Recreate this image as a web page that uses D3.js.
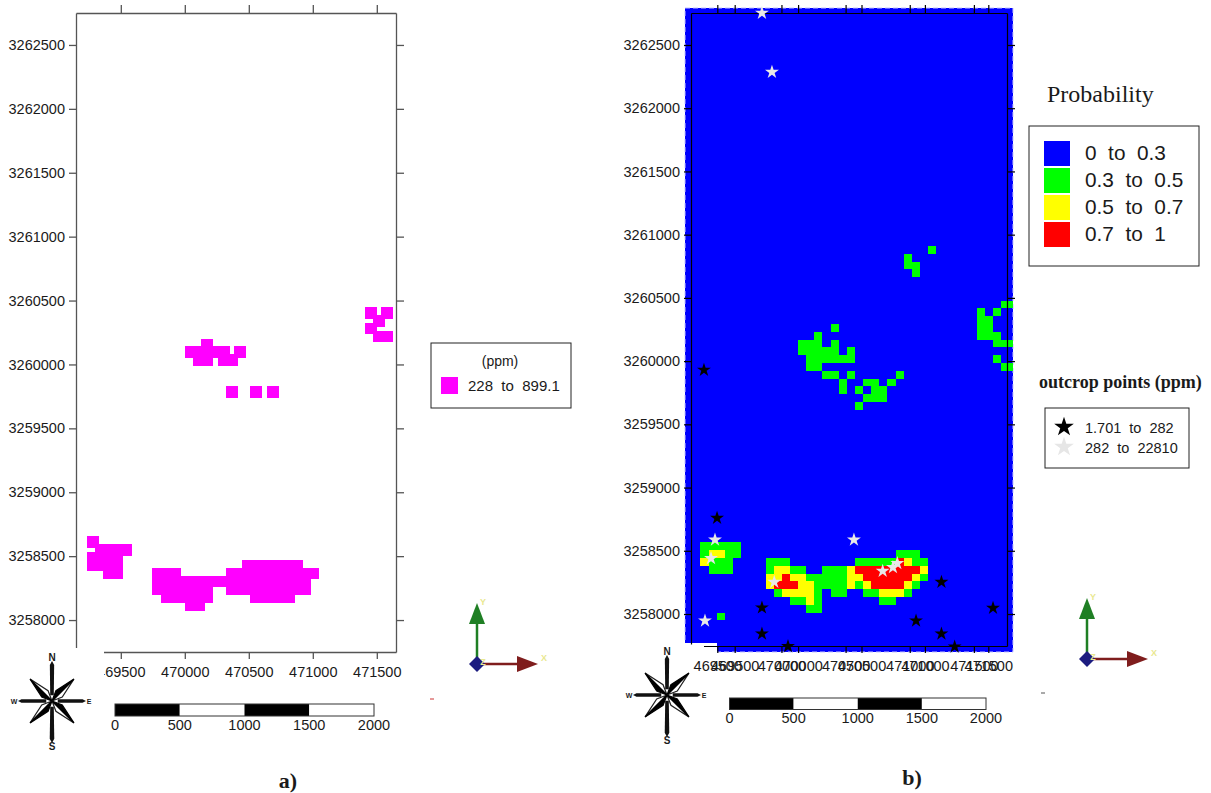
<!DOCTYPE html>
<html>
<head>
<meta charset="utf-8">
<script src="https://cdn.jsdelivr.net/npm/d3@7"></script>
<style>
html, body { margin: 0; padding: 0; background: #fff; overflow: hidden; }
text { font-family: "Liberation Sans", Arial, sans-serif; fill: #1a1a1a; white-space: pre; }
.serif { font-family: "Liberation Serif", "Times New Roman", serif; }
</style>
</head>
<body>
<script>
// tick labels, same on both maps
var eastTicks = [469500, 470000, 470500, 471000, 471500];
var northTicks = [3258000, 3258500, 3259000, 3259500, 3260000, 3260500, 3261000, 3261500, 3262000, 3262500];
var barTicks = [0, 500, 1000, 1500, 2000];
var barSegments = [[0, 500, "#000"], [500, 1000, "#fff"], [1000, 1500, "#000"], [1500, 2000, "#fff"]];

// map a) grid cells above threshold: [row, first col, last col]
var gridA = { e0: 469219, de: 63.8, n0: 3262876, dn: 61.8 };
var cellsA = [
  [40, 35, 35], [40, 37, 37], [41, 36, 36], [42, 35, 35], [43, 36, 37],
  [44, 15, 15], [45, 13, 17], [45, 19, 19], [46, 14, 15], [46, 17, 18],
  [50, 18, 18], [50, 21, 21], [50, 23, 23],
  [69, 1, 1], [70, 2, 5], [71, 1, 4], [72, 1, 4], [73, 3, 4],
  [72, 20, 26], [73, 9, 11], [73, 18, 28], [74, 9, 27], [75, 9, 15], [75, 18, 27],
  [76, 10, 15], [76, 21, 25], [77, 13, 14]
];

// map b) probability grid, blue everywhere else
var gridB = { e0: 469242, de: 63.37, n0: 3262761, dn: 61.69 };
var greenCells = [
  [30, 30, 30], [31, 27, 27], [32, 27, 28], [33, 28, 28],
  [37, 39, 40], [38, 36, 36], [38, 38, 38], [39, 36, 37], [40, 36, 37], [40, 18, 18],
  [41, 36, 38], [41, 16, 16], [42, 14, 16], [42, 18, 18], [42, 38, 40],
  [43, 14, 18], [43, 20, 20], [44, 15, 20], [44, 38, 38], [45, 15, 16], [45, 39, 40],
  [46, 17, 18], [46, 20, 20], [46, 26, 26], [47, 19, 19], [47, 22, 23], [47, 25, 25],
  [48, 19, 19], [48, 21, 21], [48, 23, 24], [49, 22, 24], [50, 21, 21],
  [68, 2, 6], [69, 2, 2], [69, 5, 6], [70, 3, 5], [71, 3, 5],
  [69, 26, 28], [70, 10, 12], [70, 21, 25], [70, 28, 29],
  [71, 10, 10], [71, 13, 14], [71, 17, 19], [72, 15, 19], [72, 29, 29],
  [73, 16, 19], [73, 21, 21], [73, 28, 28], [74, 11, 11], [74, 16, 16], [74, 18, 19],
  [74, 22, 23], [74, 27, 27], [75, 13, 14], [75, 16, 16], [75, 24, 25], [76, 15, 16], [77, 4, 4]
];
var yellowCells = [
  [69, 3, 4], [70, 2, 2], [70, 27, 27],
  [71, 11, 12], [71, 20, 20], [71, 29, 29],
  [72, 10, 11], [72, 13, 14], [72, 20, 21], [72, 28, 28],
  [73, 10, 10], [73, 14, 15], [73, 20, 20], [73, 22, 22], [73, 27, 27],
  [74, 12, 15], [74, 24, 26], [75, 15, 15]
];
var redCells = [
  [70, 26, 26], [71, 21, 28], [72, 12, 12], [72, 22, 27], [73, 11, 13], [73, 23, 26]
];

// outcrop samples, easting / northing
var lowPoints = [
  [469396, 3259930], [469498, 3258759], [469848, 3258050], [469848, 3257844], [470051, 3257744],
  [471247, 3258253], [471049, 3257947], [471247, 3257844], [471350, 3257741], [471649, 3258047]
];
var highPoints = [
  [469848, 3262753], [469926, 3262286], [469482, 3258587], [470565, 3258587], [469451, 3258440],
  [469404, 3257947], [469944, 3258253], [470789, 3258340], [470869, 3258369], [470903, 3258401]
];

var probLabels = ["0  to  0.3", "0.3  to  0.5", "0.5  to  0.7", "0.7  to  1"];
var probColors = ["#0000ff", "#00ff00", "#ffff00", "#ff0000"];
var pointLabels = ["1.701  to  282", "282  to  22810"];
var pointColors = ["#000", "#e6e6e6"];

var svg = d3.select("body").append("svg")
  .attr("width", 1211)
  .attr("height", 793);

var xa = d3.scaleLinear().domain([469150, 471650]).range([76, 396]);
var ya = d3.scaleLinear().domain([3257750, 3262750]).range([652, 13]);
var xb = d3.scaleLinear().domain([469295, 471758]).range([691, 1007]);
var xb2 = d3.scaleLinear().domain([469500, 471500]).range([734.7, 988.3]);
var yb = d3.scaleLinear().domain([3257747, 3262753]).range([646, 13]);
var xbPoints = d3.scaleLinear().domain([469500, 471500]).range([717.3, 973.9]);

function drawAxes(g, x, y, color, weight) {
  var h = y.range()[0], t = y.range()[1], l = x.range()[0], r = x.range()[1];
  var sets = [
    [d3.axisBottom(x).tickValues(eastTicks).tickFormat(d3.format("d")).tickSize(7).tickSizeOuter(0).tickPadding(8), "translate(0," + h + ")"],
    [d3.axisTop(x).tickValues(eastTicks).tickFormat("").tickSize(8).tickSizeOuter(0), "translate(0," + t + ")"],
    [d3.axisLeft(y).tickValues(northTicks).tickFormat(d3.format("d")).tickSize(7).tickSizeOuter(0).tickPadding(4), "translate(" + l + ",0)"],
    [d3.axisRight(y).tickValues(northTicks).tickFormat("").tickSize(8).tickSizeOuter(0), "translate(" + r + ",0)"]
  ];
  sets.forEach(function (s) {
    var a = g.append("g").attr("transform", s[1]).call(s[0]);
    a.selectAll("path, line").attr("stroke", color).attr("stroke-width", weight);
    a.selectAll("text").attr("font-size", 14.5).attr("font-family", null).attr("fill", "#1a1a1a");
  });
}

// ---- map a
var mapA = svg.append("g");
mapA.selectAll("rect.cell")
  .data(cellsA.flatMap(function (d) {
    return d3.range(d[1], d[2] + 1).map(function (c) { return [d[0], c]; });
  }))
  .enter().append("rect")
  .attr("class", "cell")
  .attr("x", function (d) { return xa(gridA.e0 + d[1] * gridA.de) - 5.85; })
  .attr("y", function (d) { return ya(gridA.n0 - d[0] * gridA.dn) - 5.85; })
  .attr("width", 11.7)
  .attr("height", 11.7)
  .attr("shape-rendering", "crispEdges")
  .attr("fill", "#ff00ff");
drawAxes(mapA, xa, ya, "#555", 1.3);
// corner of the plot was cut away in the original figure
mapA.append("rect").attr("x", 70).attr("y", 648).attr("width", 34).attr("height", 34).attr("fill", "#fff");

// ---- map b
var mapB = svg.append("g");
mapB.append("rect")
  .attr("x", 685).attr("y", 8).attr("width", 328).attr("height", 644)
  .attr("fill", "#0000ff")
  .attr("stroke", "#c4c4ff").attr("stroke-width", 1).attr("stroke-dasharray", "5,3");

function drawCells(cells, color) {
  mapB.selectAll("rect.c" + color.slice(1))
    .data(cells.flatMap(function (d) {
      return d3.range(d[1], d[2] + 1).map(function (c) { return [d[0], c]; });
    }))
    .enter().append("rect")
    .attr("class", "c" + color.slice(1))
    .attr("x", function (d) { return xb(gridB.e0 + d[1] * gridB.de); })
    .attr("y", function (d) { return yb(gridB.n0 - d[0] * gridB.dn); })
    .attr("width", function (d) { return Math.min(xb(gridB.e0 + (d[1] + 1) * gridB.de), 1013) - xb(gridB.e0 + d[1] * gridB.de); })
    .attr("height", function (d) { return yb(gridB.n0 - (d[0] + 1) * gridB.dn) - yb(gridB.n0 - d[0] * gridB.dn); })
    .attr("shape-rendering", "crispEdges")
    .attr("fill", color);
}
drawCells(greenCells, "#00ff00");
drawCells(yellowCells, "#ffff00");
drawCells(redCells, "#ff0000");

mapB.append("rect").attr("x", 684).attr("y", 643).attr("width", 33).attr("height", 11).attr("fill", "#fff");
drawAxes(mapB, xb, yb, "#000", 1.2);
// second tick set, the two frames do not line up in the original
var extra = mapB.append("g").attr("transform", "translate(0,646)")
  .call(d3.axisBottom(xb2).tickValues(eastTicks).tickFormat(d3.format("d")).tickSize(7).tickPadding(8));
extra.select(".domain").remove();
extra.selectAll("line").attr("stroke", "#000").attr("stroke-width", 1.2);
extra.selectAll("text").attr("font-size", 14.5).attr("font-family", null).attr("fill", "#1a1a1a");
var extraTop = mapB.append("g").attr("transform", "translate(0,13)")
  .call(d3.axisTop(xb2).tickValues(eastTicks).tickFormat("").tickSize(8));
extraTop.select(".domain").remove();
extraTop.selectAll("line").attr("stroke", "#000").attr("stroke-width", 1.2);
// hide the start of the bottom line
mapB.append("rect").attr("x", 684).attr("y", 644.5).attr("width", 20).attr("height", 3).attr("fill", "#fff");

var star = d3.symbol().type(d3.symbolStar);
function drawStars(points, color) {
  mapB.selectAll(null).data(points).enter().append("path")
    .attr("d", star.size(60)())
    .attr("transform", function (d) { return "translate(" + xbPoints(d[0]) + "," + yb(d[1]) + ")"; })
    .attr("fill", color);
}
drawStars(lowPoints, "#000");
drawStars(highPoints, "#e8e8e8");

// ---- scale bars
function drawBar(left, right, top, height, baseline) {
  var x = d3.scaleLinear().domain([0, 2000]).range([left, right]);
  var g = svg.append("g");
  g.selectAll("rect").data(barSegments).enter().append("rect")
    .attr("x", function (d) { return x(d[0]); })
    .attr("y", top)
    .attr("width", function (d) { return x(d[1]) - x(d[0]); })
    .attr("height", height)
    .attr("fill", function (d) { return d[2]; });
  g.append("rect").attr("x", left).attr("y", top).attr("width", right - left).attr("height", height)
    .attr("fill", "none").attr("stroke", "#333").attr("stroke-width", 1);
  g.selectAll("text").data(barTicks).enter().append("text")
    .attr("x", function (d) { return x(d); })
    .attr("y", baseline)
    .attr("text-anchor", "middle")
    .attr("font-size", 14.5)
    .text(function (d) { return d; });
}
drawBar(115, 374, 704, 12, 730);
drawBar(729.5, 986, 698, 11.5, 723);

// ---- north arrow
function drawCompass(cx, cy) {
  var g = svg.append("g").attr("transform", "translate(" + cx + "," + cy + ")");
  var radial = d3.lineRadial().curve(d3.curveLinearClosed);
  d3.range(8).forEach(function (i) {
    var a = i * Math.PI / 4;
    if (i % 2 == 0) {
      var R = i == 0 ? 40 : i == 4 ? 42 : 34;
      g.append("path")
        .attr("d", radial([[a - 0.06, R * 0.9], [a, R], [a + 0.06, R * 0.9], [a + 0.3, 6], [a - 0.3, 6]]))
        .attr("fill", "#111");
    } else {
      g.append("path")
        .attr("d", radial([[a, 31], [a + 0.42, 11], [a, 0]]))
        .attr("fill", "#fff").attr("stroke", "#222").attr("stroke-width", 1.2);
      g.append("path")
        .attr("d", radial([[a, 31], [a - 0.42, 11], [a, 0]]))
        .attr("fill", "#000").attr("stroke", "#000").attr("stroke-width", 1.2);
    }
  });
  var names = [["N", 0, -40, 10], ["S", 0, 49, 10], ["W", -38, 3, 7], ["E", 37, 3, 7]];
  g.selectAll("text").data(names).enter().append("text")
    .attr("x", function (d) { return d[1]; })
    .attr("y", function (d) { return d[2]; })
    .attr("text-anchor", "middle")
    .attr("font-size", function (d) { return d[3]; })
    .attr("font-weight", "bold")
    .text(function (d) { return d[0]; });
}
drawCompass(52, 701);
drawCompass(667, 695);

// ---- xyz triad
function drawTriad(ox, oy) {
  var g = svg.append("g");
  var green = "#1f7f24", red = "#7f1d1d", navy = "#1c1c80", pale = "#e9e88f";
  g.append("line").attr("x1", ox).attr("y1", oy).attr("x2", ox).attr("y2", oy - 42)
    .attr("stroke", green).attr("stroke-width", 2.5);
  g.append("path").attr("d", d3.line()([[ox, oy - 61], [ox - 8, oy - 40], [ox + 8, oy - 40]])).attr("fill", green);
  g.append("line").attr("x1", ox).attr("y1", oy).attr("x2", ox + 42).attr("y2", oy)
    .attr("stroke", red).attr("stroke-width", 2.5);
  g.append("path").attr("d", d3.line()([[ox + 61, oy], [ox + 40, oy - 8], [ox + 40, oy + 8]])).attr("fill", red);
  g.append("path").attr("d", d3.line()([[ox - 8, oy], [ox, oy - 8], [ox + 8, oy], [ox, oy + 8]])).attr("fill", navy);
  [["Y", ox + 6, oy - 59], ["X", ox + 67, oy - 3], ["Z", ox + 6, oy + 1]].forEach(function (d) {
    g.append("text").attr("x", d[1]).attr("y", d[2]).attr("text-anchor", "middle")
      .attr("font-size", 9).attr("font-weight", "bold").style("fill", pale).text(d[0]);
  });
}
drawTriad(477, 664);
drawTriad(1087, 659);

// ---- legend a
svg.append("rect").attr("x", 431).attr("y", 343).attr("width", 140).attr("height", 65)
  .attr("fill", "#fff").attr("stroke", "#222").attr("stroke-width", 1);
svg.append("text").attr("x", 500).attr("y", 366).attr("text-anchor", "middle").attr("font-size", 14).text("(ppm)");
svg.append("rect").attr("x", 441).attr("y", 377).attr("width", 17).attr("height", 17).attr("fill", "#ff00ff");
svg.append("text").attr("x", 468).attr("y", 391).attr("font-size", 15).text("228  to  899.1");

// ---- legend b, probability
svg.append("text").attr("class", "serif").attr("x", 1047).attr("y", 102).attr("font-size", 24).text("Probability");
svg.append("rect").attr("x", 1029).attr("y", 126).attr("width", 170).attr("height", 140)
  .attr("fill", "#fff").attr("stroke", "#222").attr("stroke-width", 1);
var probRow = d3.scalePoint().domain(probLabels).range([141, 222]);
svg.selectAll("rect.prob").data(probLabels).enter().append("rect")
  .attr("class", "prob")
  .attr("x", 1044)
  .attr("y", function (d) { return probRow(d); })
  .attr("width", 26)
  .attr("height", 25)
  .attr("fill", function (d, i) { return probColors[i]; });
svg.selectAll("text.prob").data(probLabels).enter().append("text")
  .attr("class", "prob")
  .attr("x", 1085)
  .attr("y", function (d) { return probRow(d) + 19; })
  .attr("font-size", 20.8)
  .text(function (d) { return d; });

// ---- legend b, points
svg.append("text").attr("class", "serif").attr("x", 1039).attr("y", 388)
  .attr("font-size", 18).attr("font-weight", "bold").text("outcrop points (ppm)");
svg.append("rect").attr("x", 1045).attr("y", 408).attr("width", 144).attr("height", 60)
  .attr("fill", "#fff").attr("stroke", "#222").attr("stroke-width", 1);
var pointRow = d3.scalePoint().domain(pointLabels).range([427, 447]);
svg.selectAll("path.leg").data(pointLabels).enter().append("path")
  .attr("class", "leg")
  .attr("d", star.size(120)())
  .attr("transform", function (d) { return "translate(1064," + pointRow(d) + ")"; })
  .attr("fill", function (d, i) { return pointColors[i]; });
svg.selectAll("text.leg").data(pointLabels).enter().append("text")
  .attr("class", "leg")
  .attr("x", 1085)
  .attr("y", function (d) { return pointRow(d) + 6; })
  .attr("font-size", 14.5)
  .text(function (d) { return d; });

// stray dashes left in the scan
svg.append("line").attr("x1", 430).attr("y1", 699).attr("x2", 434).attr("y2", 699).attr("stroke", "#c33").attr("stroke-width", 1);
svg.append("line").attr("x1", 1041).attr("y1", 693).attr("x2", 1045).attr("y2", 693).attr("stroke", "#555").attr("stroke-width", 1);

// ---- panel labels
svg.append("text").attr("class", "serif").attr("x", 288).attr("y", 788).attr("text-anchor", "middle")
  .attr("font-size", 22).attr("font-weight", "bold").text("a)");
svg.append("text").attr("class", "serif").attr("x", 912).attr("y", 785).attr("text-anchor", "middle")
  .attr("font-size", 22).attr("font-weight", "bold").text("b)");
</script>
</body>
</html>
